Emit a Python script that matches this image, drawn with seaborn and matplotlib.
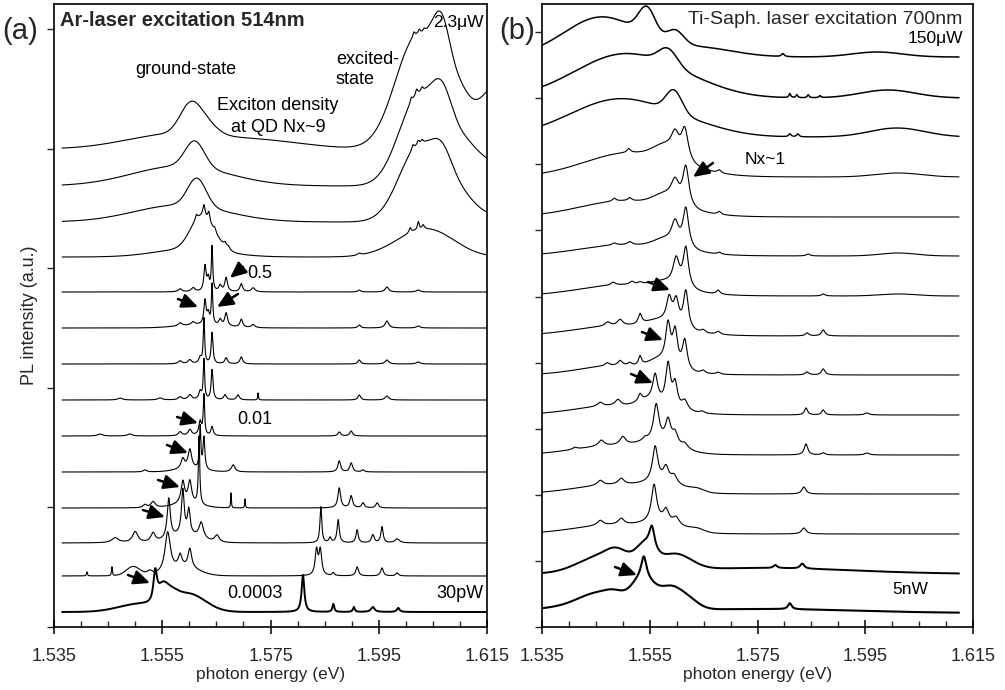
import numpy as np
import pandas as pd
import matplotlib
matplotlib.use("Agg")
import matplotlib.pyplot as plt
import seaborn as sns
from matplotlib.ticker import MultipleLocator

# ---------------- data ----------------
# Panel (a): Ar-laser excitation, spectra from bottom (30pW) to top (2.3uW)
A_OFFSET = [15, 51, 84, 119, 155, 191, 227, 263, 299, 335, 370, 405, 441, 478]
# broad bands: (energy eV, height, FWHM eV)
A_BANDS = [
    [(1.5509, 8, 0.0093), (1.5550, 12, 0.0020), (1.5564, 10, 0.0030), (1.5598, 18, 0.0074)],
    [(1.5496, 9, 0.0030), (1.5592, 8, 0.0060)],
    [(1.5592, 8, 0.0060)],
    [(1.5595, 4, 0.0060)],
    [(1.5600, 3, 0.0060)],
    [],
    [],
    [],
    [(1.5620, 3, 0.0100)],
    [],
    [(1.5620, 30, 0.0045), (1.5601, 8, 0.0150), (1.5647, 8, 0.0040), (1.6026, 22, 0.0120), (1.6063, 8, 0.0100)],
    [(1.5583, 17, 0.0200), (1.5614, 28, 0.0040), (1.6023, 72, 0.0085), (1.6067, 32, 0.0045), (1.6100, 18, 0.0060), (1.6119, 8, 0.0150)],
    [(1.5583, 20, 0.0210), (1.5610, 26, 0.0042), (1.6023, 88, 0.0085), (1.6067, 50, 0.0045), (1.6104, 30, 0.0060), (1.6156, 22, 0.0100)],
    [(1.5564, 14, 0.0200), (1.5601, 27, 0.0045), (1.5629, 12, 0.0050), (1.5731, 8, 0.0200), (1.6021, 112, 0.0095),
     (1.6067, 68, 0.0040), (1.6101, 25, 0.0040), (1.6183, 70, 0.0120)],
]
# sharp lines: (energy eV, height, FWHM eV)
A_LINES = [
    [(1.5537, 30, 0.0008), (1.5810, 37, 0.0006), (1.5866, 8, 0.0004), (1.5904, 5, 0.0004), (1.5939, 5, 0.0008), (1.5986, 4, 0.0006)],
    [(1.5411, 4, 0.0002), (1.5457, 9, 0.0002), (1.5527, 4, 0.0012), (1.5560, 40, 0.0012), (1.5583, 12, 0.0008), (1.5601, 19, 0.0008),
     (1.5835, 25, 0.0006), (1.5842, 25, 0.0006), (1.5866, 3, 0.0005), (1.5910, 9, 0.0006), (1.5956, 8, 0.0006), (1.5984, 3, 0.0006)],
    [(1.5463, 5, 0.0015), (1.5500, 11, 0.0012), (1.5533, 9, 0.0010), (1.5562, 40, 0.0007), (1.5588, 44, 0.0006), (1.5599, 24, 0.0006),
     (1.5622, 16, 0.0010), (1.5651, 7, 0.0010), (1.5843, 36, 0.0004), (1.5860, 5, 0.0005), (1.5875, 23, 0.0005), (1.5910, 13, 0.0005),
     (1.5939, 8, 0.0006), (1.5956, 16, 0.0005), (1.5984, 4, 0.0010)],
    [(1.5518, 3, 0.0008), (1.5533, 6, 0.0010), (1.5588, 22, 0.0008), (1.5601, 22, 0.0008), (1.5618, 68, 0.0003), (1.5677, 15, 0.00015),
     (1.5703, 9, 0.00015), (1.5877, 20, 0.0006), (1.5899, 12, 0.0006), (1.5921, 5, 0.0006), (1.5947, 5, 0.0006)],
    [(1.5518, 2, 0.0008), (1.5588, 10, 0.0008), (1.5601, 19, 0.0008), (1.5620, 42, 0.0003), (1.5627, 32, 0.0004), (1.5681, 7, 0.0008),
     (1.5877, 11, 0.0006), (1.5899, 9, 0.0006), (1.5921, 2, 0.0006)],
    [(1.5435, 2, 0.0010), (1.5490, 2, 0.0010), (1.5583, 4, 0.0008), (1.5601, 6, 0.0008), (1.5620, 14, 0.0006), (1.5627, 40, 0.0003),
     (1.5642, 9, 0.0005), (1.5877, 4, 0.0006), (1.5899, 5, 0.0006)],
    [(1.5472, 2, 0.0010), (1.5546, 2, 0.0010), (1.5583, 3, 0.0008), (1.5601, 5, 0.0008), (1.5620, 8, 0.0006), (1.5627, 40, 0.0003),
     (1.5642, 30, 0.0004), (1.5666, 5, 0.0006), (1.5690, 5, 0.0006), (1.5727, 7, 0.00015), (1.5914, 5, 0.0006), (1.5965, 4, 0.0008)],
    [(1.5583, 3, 0.0008), (1.5601, 4, 0.0008), (1.5620, 6, 0.0006), (1.5627, 45, 0.0003), (1.5642, 31, 0.0004), (1.5668, 6, 0.0006),
     (1.5696, 7, 0.0006), (1.5914, 4, 0.0006), (1.5965, 4, 0.0008), (1.6023, 2, 0.0008)],
    [(1.5583, 3, 0.0008), (1.5607, 3, 0.0008), (1.5629, 24, 0.0005), (1.5635, 10, 0.0005), (1.5642, 40, 0.0003), (1.5657, 6, 0.0006),
     (1.5668, 13, 0.0006), (1.5696, 8, 0.0006), (1.5718, 3, 0.0008), (1.5914, 3, 0.0006), (1.5965, 7, 0.0008), (1.6023, 2, 0.0008)],
    [(1.5583, 3, 0.0008), (1.5607, 4, 0.0008), (1.5629, 25, 0.0005), (1.5635, 12, 0.0005), (1.5642, 44, 0.0003), (1.5657, 6, 0.0006),
     (1.5668, 14, 0.0006), (1.5696, 8, 0.0006), (1.5718, 4, 0.0008), (1.5914, 2, 0.0006), (1.5965, 5, 0.0008), (1.6023, 2, 0.0008)],
    [(1.5613, 5, 0.0005), (1.5627, 12, 0.0005), (1.5636, 10, 0.0005), (1.5647, 4, 0.0005), (1.5666, 4, 0.0006), (1.5672, 3, 0.0006),
     (1.5914, 2, 0.0008), (1.6008, 5, 0.0005), (1.6023, 8, 0.0004), (1.6032, 4, 0.0005)],
    [(1.6013, 5, 0.0005), (1.6023, 4, 0.0005), (1.6030, 3, 0.0005)],
    [(1.6010, 5, 0.0005), (1.6020, 6, 0.0005), (1.6030, 4, 0.0005)],
    [(1.6015, 5, 0.0005), (1.6025, 4, 0.0005), (1.6034, 3, 0.0005)],
]

# Panel (b): Ti-Saph. laser excitation, spectra from bottom (5nW) to top (150uW)
B_OFFSET = [14, 53, 93, 133, 172, 212, 252, 291, 331, 371, 410, 450, 490, 529, 570]
B_BANDS = [
    [(1.5421, 6, 0.020), (1.5458, 14, 0.009), (1.5487, 6, 0.004), (1.5528, 14, 0.004), (1.5550, 20, 0.005),
     (1.5588, 14, 0.004), (1.5615, 13, 0.005), (1.5755, 4, 0.040)],
    [(1.5458, 16, 0.010), (1.5491, 12, 0.005), (1.5541, 22, 0.004), (1.5597, 16, 0.007), (1.5755, 6, 0.040)],
    [(1.5486, 9, 0.018), (1.5578, 7, 0.008), (1.5638, 3, 0.003)],
    [(1.5486, 9, 0.018), (1.5578, 7, 0.008), (1.5638, 3, 0.003)],
    [(1.5486, 9, 0.018), (1.5569, 8, 0.008)],
    [(1.5486, 9, 0.018), (1.5551, 8, 0.005)],
    [(1.5486, 9, 0.016), (1.5569, 10, 0.005)],
    [(1.5495, 10, 0.020), (1.5569, 8, 0.006)],
    [(1.5504, 11, 0.020), (1.5578, 6, 0.006), (1.6011, 2, 0.008)],
    [(1.5504, 11, 0.020), (1.5578, 8, 0.005), (1.6011, 3, 0.008)],
    [(1.5504, 16, 0.020), (1.5578, 10, 0.005)],
    [(1.5513, 24, 0.020), (1.5578, 12, 0.005), (1.6011, 4, 0.010)],
    [(1.5495, 38, 0.022), (1.5595, 22, 0.0035), (1.5643, 5, 0.015), (1.6009, 9, 0.012)],
    [(1.5504, 44, 0.022), (1.5584, 16, 0.0041), (1.5643, 5, 0.015), (1.5992, 8, 0.012)],
    [(1.5461, 40, 0.0167), (1.5545, 28, 0.0037), (1.5597, 14, 0.0037), (1.5643, 9, 0.015), (1.5972, 5, 0.011)],
]
B_LINES = [
    [(1.5539, 22, 0.0012), (1.5810, 6, 0.0008)],
    [(1.5554, 22, 0.0012), (1.5783, 3, 0.0008), (1.5833, 5, 0.0009)],
    [(1.5458, 5, 0.0013), (1.5497, 6, 0.0013), (1.5558, 37, 0.0012), (1.5580, 12, 0.0012), (1.5599, 7, 0.0014), (1.5836, 6, 0.0010)],
    [(1.5458, 5, 0.0013), (1.5497, 6, 0.0013), (1.5560, 35, 0.0012), (1.5580, 14, 0.0012), (1.5595, 8, 0.0014), (1.5836, 7, 0.0009)],
    [(1.5411, 2, 0.0010), (1.5460, 6, 0.0013), (1.5500, 8, 0.0013), (1.5541, 3, 0.0010), (1.5562, 36, 0.0012), (1.5584, 22, 0.0012),
     (1.5597, 11, 0.0012), (1.5615, 5, 0.0014), (1.5840, 11, 0.0008), (1.5872, 2, 0.0008), (1.5953, 2, 0.0010)],
    [(1.5458, 4, 0.0012), (1.5491, 6, 0.0012), (1.5532, 7, 0.0008), (1.5560, 26, 0.0011), (1.5584, 42, 0.0011), (1.5597, 24, 0.0011),
     (1.5615, 10, 0.0014), (1.5647, 2, 0.0010), (1.5840, 7, 0.0007), (1.5872, 5, 0.0007), (1.5953, 2, 0.0010)],
    [(1.5471, 3, 0.0010), (1.5495, 5, 0.0010), (1.5513, 3, 0.0010), (1.5532, 9, 0.0007), (1.5584, 38, 0.0011), (1.5597, 34, 0.0011),
     (1.5615, 30, 0.0011), (1.5649, 3, 0.0010), (1.5677, 2, 0.0010), (1.5842, 3, 0.0008), (1.5872, 6, 0.0008)],
    [(1.5472, 4, 0.0012), (1.5495, 6, 0.0012), (1.5532, 10, 0.0008), (1.5586, 24, 0.0012), (1.5599, 24, 0.0012), (1.5617, 38, 0.0011),
     (1.5649, 3, 0.0010), (1.5677, 3, 0.0010), (1.5842, 3, 0.0008), (1.5872, 6, 0.0008)],
    [(1.5482, 3, 0.0010), (1.5517, 3, 0.0010), (1.5532, 2, 0.0010), (1.5599, 26, 0.0014), (1.5617, 40, 0.0012), (1.5677, 4, 0.0008),
     (1.5872, 2, 0.0008)],
    [(1.5484, 2, 0.0010), (1.5513, 3, 0.0010), (1.5597, 22, 0.0016), (1.5617, 40, 0.0013), (1.5679, 2, 0.0008), (1.5844, 2, 0.0008)],
    [(1.5484, 3, 0.0008), (1.5513, 3, 0.0008), (1.5597, 20, 0.0018), (1.5617, 40, 0.0014), (1.5679, 3, 0.0008)],
    [(1.5511, 4, 0.0008), (1.5597, 20, 0.0018), (1.5615, 32, 0.0016), (1.5679, 3, 0.0008)],
    [(1.5810, 3, 0.0005), (1.5825, 3, 0.0005)],
    [(1.5810, 4, 0.0004), (1.5823, 3, 0.0004), (1.5844, 3, 0.0004), (1.5866, 2, 0.0004)],
    [(1.5797, 3, 0.0006)],
]

A_RANGE = (1.5365, 1.6150)
B_RANGE = (1.5350, 1.6124)
X_TICKS = [1.535, 1.555, 1.575, 1.595, 1.615]
X_TICK_LABELS = ["1.535", "1.555", "1.575", "1.595", "1.615"]


def spectrum(E, offset, bands, lines):
    y = np.full_like(E, float(offset))
    for c, h, fw in bands:
        s = fw / 2.3548
        y += h * np.exp(-0.5 * ((E - c) / s) ** 2)
    for c, h, fw in lines:
        y += h / (1.0 + (2.0 * (E - c) / fw) ** 2)
    return y


def build(offsets, bands, lines, erange):
    E = np.linspace(erange[0], erange[1], 4000)
    frames = []
    for i, (o, b, l) in enumerate(zip(offsets, bands, lines)):
        frames.append(pd.DataFrame({"energy": E, "intensity": spectrum(E, o, b, l), "curve": i}))
    return pd.concat(frames, ignore_index=True)


dfA = build(A_OFFSET, A_BANDS, A_LINES, A_RANGE)
dfB = build(B_OFFSET, B_BANDS, B_LINES, B_RANGE)

sns.set_theme(style="white")
plt.rcParams["font.family"] = ["Liberation Sans", "DejaVu Sans"]

fig = plt.figure(figsize=(10.05, 6.9), dpi=100)
axA = fig.add_axes([54 / 1005, 1 - 627 / 690, 433 / 1005, 623 / 690])
axB = fig.add_axes([542 / 1005, 1 - 627 / 690, 431 / 1005, 623 / 690])

lwA = {0: 1.4}
lwB = {0: 1.5, 1: 1.4, 12: 1.0, 13: 1.1, 14: 1.1}
for i, d in dfA.groupby("curve"):
    sns.lineplot(data=d, x="energy", y="intensity", ax=axA, color="black",
                 lw=lwA.get(i, 0.8), estimator=None, sort=False, legend=False)
for i, d in dfB.groupby("curve"):
    sns.lineplot(data=d, x="energy", y="intensity", ax=axB, color="black",
                 lw=lwB.get(i, 0.8), estimator=None, sort=False, legend=False)

for ax, ystep, nt in ((axA, 119.6, 6), (axB, 66.1, 10)):
    ax.set_xlim(1.535, 1.615)
    ax.set_ylim(0, 623)
    ax.set_xticks(X_TICKS)
    ax.set_xticklabels(X_TICK_LABELS)
    ax.xaxis.set_minor_locator(MultipleLocator(0.005))
    ax.set_yticks(np.arange(nt) * ystep)
    ax.set_yticklabels([])
    ax.tick_params(axis="x", which="major", direction="inout", length=10, width=1.1,
                   labelsize=13, pad=10, color="black", bottom=True)
    ax.tick_params(axis="x", which="minor", direction="in", length=4, width=1.0, bottom=True)
    ax.tick_params(axis="y", which="major", direction="out", length=5, width=1.0, left=True)
    for sp in ax.spines.values():
        sp.set_visible(True)
        sp.set_color("black")
        sp.set_linewidth(1.2)
    ax.set_xlabel("photon energy (eV)", fontsize=12.5)
    ax.xaxis.set_label_coords(0.5, -0.064)
    ax.set_ylabel("")

axA.set_ylabel("PL intensity (a.u.)", fontsize=13)
axA.yaxis.set_label_coords(-0.036, 0.5)

fig.text(20 / 1005, 1 - 31 / 690, "(a)", fontsize=21, ha="center", va="center")
fig.text(517 / 1005, 1 - 31 / 690, "(b)", fontsize=21, ha="center", va="center")

tk = dict(fontsize=13, color="black")
pk = dict(fontsize=12.5, color="black")
axA.text(1.5361, 606, "Ar-laser excitation 514nm", fontsize=14.5, fontweight="bold", ha="left", va="center")
axA.text(1.5594, 557, "ground-state", ha="center", va="center", **tk)
axA.text(1.5871, 567, "excited-", ha="left", va="center", **tk)
axA.text(1.5871, 548, "state", ha="left", va="center", **tk)
axA.text(1.5764, 522, "Exciton density", ha="center", va="center", **tk)
axA.text(1.5764, 500, "at QD Nx~9", ha="center", va="center", **tk)
axA.text(1.6143, 604, "2.3μW", ha="right", va="center", **pk)
axA.text(1.5707, 354, "0.5", ha="left", va="center", **tk)
axA.text(1.5688, 207, "0.01", ha="left", va="center", **tk)
axA.text(1.5670, 34, "0.0003", ha="left", va="center", **tk)
axA.text(1.6143, 34, "30pW", ha="right", va="center", **tk)

axB.text(1.6131, 607, "Ti-Saph. laser excitation 700nm", ha="right", va="center", fontsize=14)
axB.text(1.6131, 589, "150μW", ha="right", va="center", **pk)
axB.text(1.5727, 468, "Nx~1", ha="left", va="center", **pk)
axB.text(1.6000, 37, "5nW", ha="left", va="center", **pk)

arrow = dict(arrowstyle="-|>,head_length=0.6,head_width=0.27", lw=1.8, color="black",
             shrinkA=0, shrinkB=0, mutation_scale=16)
A_ARROWS = [((1.56992, 360), (1.56752, 349)), ((1.55791, 328), (1.56161, 320)),
            ((1.56900, 333), (1.56512, 320)), ((1.55773, 210), (1.56161, 204)),
            ((1.55588, 182), (1.55976, 174)), ((1.55422, 147), (1.55828, 140)),
            ((1.55144, 117), (1.55551, 110)), ((1.54867, 52), (1.55274, 44))]
B_ARROWS = [((1.56674, 464), (1.56303, 450)), ((1.55467, 345), (1.55876, 337)),
            ((1.55356, 295), (1.55746, 287)), ((1.55152, 253), (1.55560, 244)),
            ((1.54855, 60), (1.55263, 52))]
for tail, head in A_ARROWS:
    axA.annotate("", xy=head, xytext=tail, arrowprops=arrow)
for tail, head in B_ARROWS:
    axB.annotate("", xy=head, xytext=tail, arrowprops=arrow)

fig.savefig("out.png", dpi=100)
